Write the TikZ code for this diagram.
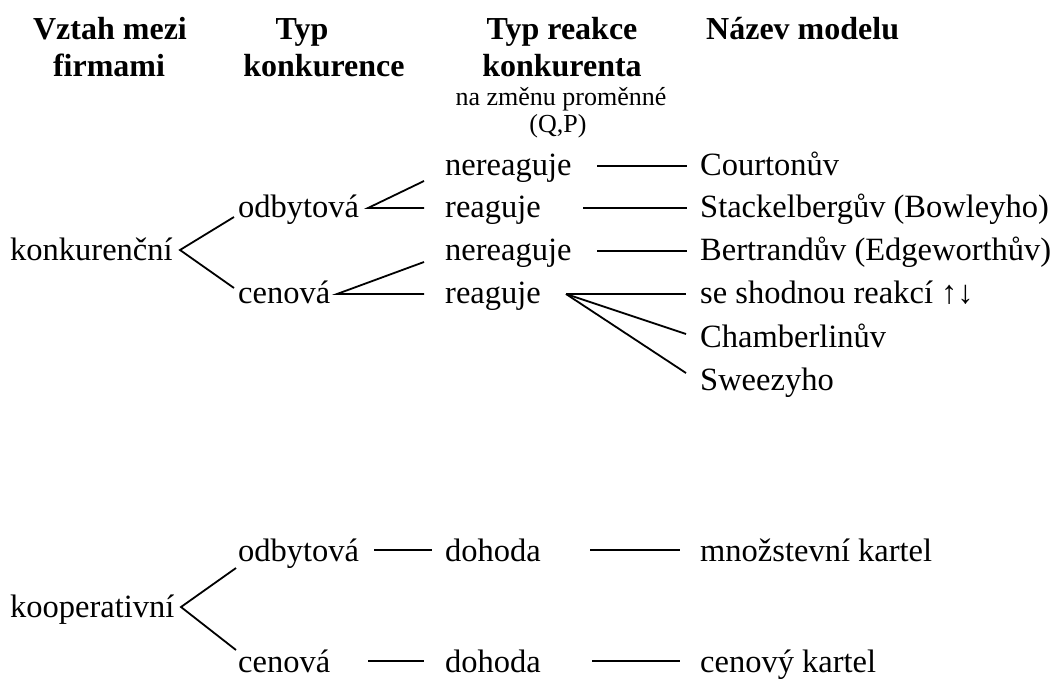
\documentclass[tikz,border=0pt]{standalone}
\usepackage{fontspec}
\setmainfont{Liberation Serif}
\begin{document}
\begin{tikzpicture}[x=1pt,y=-1pt,
  txt/.style={anchor=base west, inner sep=0pt, font=\fontsize{32.5}{38}\selectfont},
  hdr/.style={anchor=base, inner sep=0pt, font=\fontsize{32}{36}\selectfont\bfseries},
  sub/.style={anchor=base, inner sep=0pt, font=\fontsize{26}{30}\selectfont},
  conn/.style={draw=black, line width=1.8pt}]
\useasboundingbox (0,0) rectangle (1058,678);
% headers
\node[hdr] (h1a) at (110,39) {Vztah mezi};
\node[hdr] (h1b) at (109,76) {firmami};
\node[hdr] (h2a) at (302,39) {Typ};
\node[hdr] (h2b) at (324,76) {konkurence};
\node[hdr] (h3a) at (562,39) {Typ reakce};
\node[hdr] (h3b) at (562,76) {konkurenta};
\node[sub] (h3c) at (561,105) {na změnu proměnné};
\node[sub] (h3d) at (558,132) {(Q,P)};
\node[hdr, anchor=base west] (h4) at (706,39) {Název modelu};
% upper tree
\node[txt] (konk) at (10,260) {konkurenční};
\node[txt] (odb1) at (238,217) {odbytová};
\node[txt] (cen1) at (238,303) {cenová};
\node[txt] (ner1) at (445,175) {nereaguje};
\node[txt] (rea1) at (445,217) {reaguje};
\node[txt] (ner2) at (445,260) {nereaguje};
\node[txt] (rea2) at (445,303) {reaguje};
\node[txt] (m1) at (700,175) {Courtonův};
\node[txt] (m2) at (700,217) {Stackelbergův (Bowleyho)};
\node[txt] (m3) at (700,260) {Bertrandův (Edgeworthův)};
\node[txt] (m4) at (700,303) {se shodnou reakcí ↑↓};
\node[txt] (m5) at (700,347) {Chamberlinův};
\node[txt] (m6) at (700,390) {Sweezyho};
% lower tree
\node[txt] (koop) at (10,617) {kooperativní};
\node[txt] (odb2) at (238,561) {odbytová};
\node[txt] (cen2) at (238,672) {cenová};
\node[txt] (doh1) at (445,561) {dohoda};
\node[txt] (doh2) at (445,672) {dohoda};
\node[txt] (k1) at (700,561) {množstevní kartel};
\node[txt] (k2) at (700,672) {cenový kartel};
% connector points
\coordinate (kv) at (180,250);
\coordinate (ko) at (234,217);
\coordinate (kc) at (234,288);
\coordinate (ov) at (368,208);
\coordinate (oh) at (424,208);
\coordinate (ou) at (424,181);
\coordinate (cv) at (337,294);
\coordinate (ch) at (424,294);
\coordinate (cu) at (424,262);
\coordinate (r1a) at (597,166); \coordinate (r1b) at (687,166);
\coordinate (r2a) at (583,208); \coordinate (r2b) at (687,208);
\coordinate (r3a) at (597,251); \coordinate (r3b) at (687,251);
\coordinate (rv) at (566,294);
\coordinate (re4) at (686,294);
\coordinate (re5) at (686,334);
\coordinate (re6) at (686,373);
\coordinate (pv) at (181,607);
\coordinate (po) at (236,568);
\coordinate (pc) at (236,650);
\coordinate (d1a) at (374,550); \coordinate (d1b) at (432,550);
\coordinate (d2a) at (590,550); \coordinate (d2b) at (680,550);
\coordinate (d3a) at (368,661); \coordinate (d3b) at (424,661);
\coordinate (d4a) at (592,661); \coordinate (d4b) at (680,661);
% connectors
\draw[conn] (ko) -- (kv) -- (kc);
\draw[conn] (ou) -- (ov) -- (oh);
\draw[conn] (cu) -- (cv) -- (ch);
\draw[conn] (r1a) -- (r1b);
\draw[conn] (r2a) -- (r2b);
\draw[conn] (r3a) -- (r3b);
\draw[conn] (rv) -- (re4);
\draw[conn] (rv) -- (re5);
\draw[conn] (rv) -- (re6);
\draw[conn] (po) -- (pv) -- (pc);
\draw[conn] (d1a) -- (d1b);
\draw[conn] (d2a) -- (d2b);
\draw[conn] (d3a) -- (d3b);
\draw[conn] (d4a) -- (d4b);
\end{tikzpicture}
\end{document}
